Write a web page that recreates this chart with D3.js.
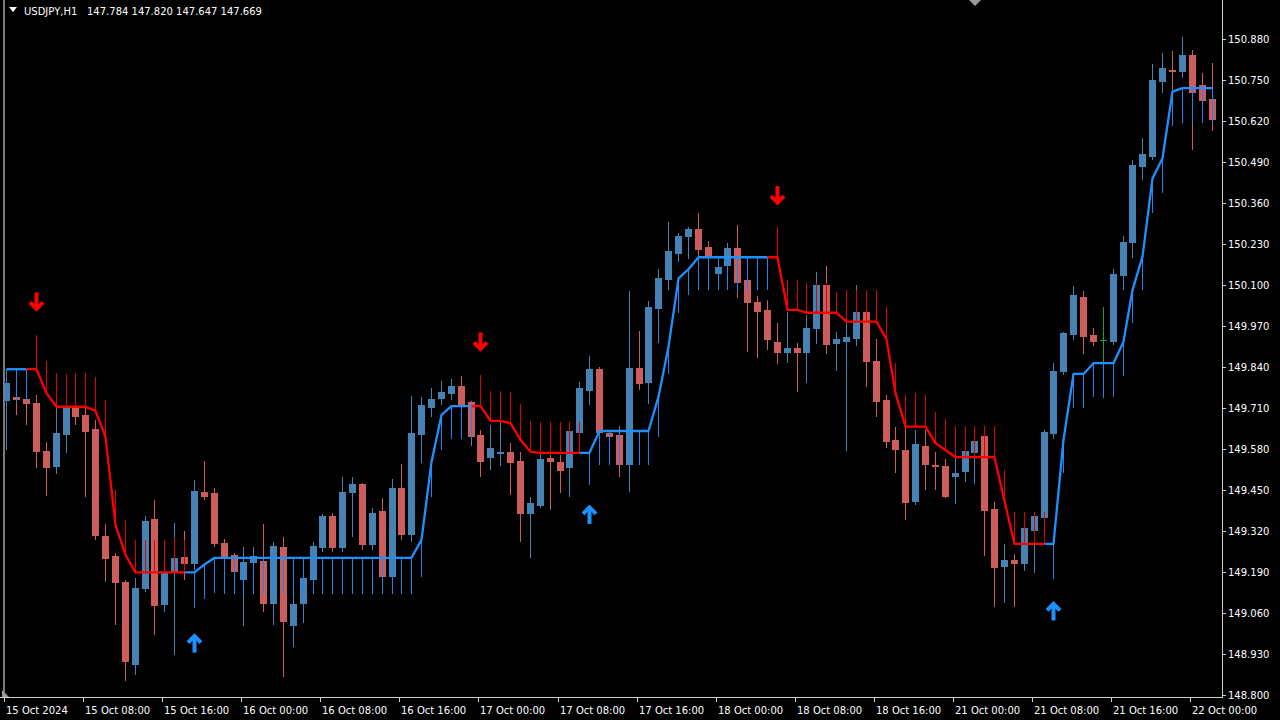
<!DOCTYPE html>
<html><head><meta charset="utf-8">
<script src="https://cdn.jsdelivr.net/npm/d3@7"></script>
<style>html,body{margin:0;padding:0;background:#000;overflow:hidden}</style>
</head><body><svg id="c" width="1280" height="720"></svg>
<script>
const open=[149.733,149.744,149.739,149.727,149.574,149.522,149.624,149.711,149.688,149.643,149.304,149.242,149.159,148.895,149.135,149.358,149.085,149.186,149.237,149.215,149.444,149.441,149.283,149.244,149.165,149.218,149.225,149.088,149.268,149.020,149.088,149.165,149.267,149.368,149.267,149.440,149.469,149.276,149.383,149.173,149.457,149.307,149.624,149.711,149.738,149.754,149.781,149.728,149.624,149.551,149.564,149.570,149.542,149.374,149.400,149.551,149.538,149.519,149.632,149.765,149.833,149.630,149.624,149.529,149.836,149.788,150.023,150.116,150.197,150.251,150.277,150.220,150.134,150.160,150.216,150.116,150.047,150.021,149.918,149.885,149.899,149.885,149.960,150.100,149.913,149.920,149.929,150.014,149.860,149.735,149.609,149.577,149.411,149.590,149.529,149.526,149.490,149.506,149.568,149.621,149.389,149.207,149.228,149.215,149.321,149.360,149.628,149.825,149.942,150.061,149.942,149.926,149.920,150.129,150.232,150.473,150.507,150.745,150.782,150.776,150.829,150.734,150.690];
const high=[149.812,149.761,149.751,149.751,149.601,149.710,149.720,149.720,149.713,149.672,149.341,149.249,149.165,149.171,149.369,149.418,149.196,149.344,149.320,149.482,149.542,149.457,149.294,149.249,149.270,149.270,149.342,149.286,149.300,149.228,149.228,149.286,149.373,149.376,149.490,149.490,149.473,149.392,149.424,149.485,149.532,149.748,149.744,149.774,149.796,149.801,149.812,149.732,149.640,149.656,149.669,149.599,149.571,149.427,149.571,149.561,149.561,149.656,149.793,149.875,149.840,149.640,149.653,150.081,149.955,150.049,150.151,150.301,150.264,150.283,150.327,150.241,150.173,150.232,150.290,150.163,150.065,150.052,149.979,150.014,149.917,150.005,150.142,150.160,149.952,149.980,150.100,150.052,149.928,149.751,149.651,149.751,149.640,149.640,149.571,149.547,149.552,149.593,149.624,149.640,149.413,149.279,149.247,149.355,149.380,149.640,149.854,149.952,150.097,150.082,149.963,150.029,150.150,150.255,150.496,150.565,150.800,150.837,150.842,150.885,150.845,150.773,150.805];
const low=[149.577,149.688,149.656,149.519,149.431,149.501,149.568,149.656,149.427,149.292,149.159,149.022,148.845,148.863,149.127,148.990,149.064,148.927,149.165,149.196,149.418,149.270,149.228,149.177,149.019,149.206,149.064,149.022,148.858,148.951,149.027,149.152,149.253,149.253,149.253,149.302,149.260,149.260,149.158,149.165,149.292,149.286,149.535,149.682,149.720,149.735,149.704,149.590,149.492,149.513,149.527,149.434,149.285,149.233,149.393,149.387,149.441,149.427,149.621,149.720,149.615,149.593,149.491,149.444,149.767,149.723,149.915,150.084,150.173,150.182,150.192,150.173,150.084,150.084,150.060,149.889,149.868,149.894,149.850,149.854,149.762,149.788,149.913,149.880,149.828,149.575,149.908,149.778,149.681,149.582,149.503,149.355,149.402,149.450,149.450,149.424,149.406,149.476,149.469,149.241,149.080,149.093,149.078,149.194,149.186,149.339,149.611,149.815,149.926,149.881,149.907,149.741,149.910,150.084,150.185,150.433,150.496,150.708,150.718,150.755,150.528,150.671,150.589];
const close=[149.790,149.735,149.723,149.571,149.521,149.630,149.711,149.681,149.635,149.304,149.230,149.154,148.906,149.138,149.352,149.082,149.186,149.233,149.215,149.448,149.427,149.279,149.239,149.189,149.221,149.241,149.088,149.273,149.032,149.089,149.170,149.273,149.368,149.267,149.445,149.468,149.276,149.378,149.173,149.457,149.307,149.630,149.719,149.738,149.762,149.781,149.712,149.619,149.540,149.582,149.570,149.537,149.374,149.410,149.547,149.538,149.511,149.637,149.774,149.833,149.632,149.619,149.529,149.836,149.786,150.029,150.121,150.209,150.255,150.277,150.211,150.192,150.158,150.216,150.105,150.042,150.015,149.926,149.883,149.899,149.883,149.963,150.100,149.910,149.928,149.934,150.014,149.855,149.728,149.603,149.577,149.408,149.595,149.529,149.522,149.429,149.503,149.574,149.605,149.384,149.204,149.228,149.215,149.329,149.368,149.635,149.828,149.947,150.068,149.936,149.920,149.926,150.135,150.236,150.481,150.515,150.750,150.789,150.775,150.829,150.710,150.684,150.623];
const trail=[149.833,149.833,149.833,149.833,149.757,149.714,149.714,149.714,149.714,149.701,149.618,149.339,149.244,149.189,149.189,149.189,149.189,149.189,149.189,149.189,149.214,149.235,149.235,149.235,149.235,149.235,149.235,149.235,149.235,149.235,149.235,149.235,149.235,149.235,149.235,149.235,149.235,149.235,149.235,149.235,149.235,149.235,149.292,149.539,149.688,149.716,149.716,149.716,149.716,149.669,149.669,149.662,149.609,149.571,149.568,149.568,149.568,149.568,149.568,149.568,149.637,149.637,149.637,149.637,149.637,149.637,149.746,149.904,150.121,150.150,150.188,150.188,150.188,150.188,150.188,150.188,150.188,150.188,150.188,150.021,150.021,150.012,150.012,150.012,150.012,149.984,149.984,149.984,149.984,149.928,149.757,149.651,149.651,149.651,149.598,149.577,149.554,149.554,149.554,149.554,149.554,149.415,149.279,149.279,149.279,149.279,149.279,149.609,149.818,149.818,149.852,149.852,149.852,149.920,150.084,150.190,150.438,150.502,150.713,150.724,150.724,150.724,150.724];
const hist=[149.723,149.729,149.729,149.942,149.859,149.822,149.817,149.820,149.820,149.809,149.735,149.450,149.355,149.292,149.292,149.292,149.292,149.298,149.292,149.075,149.104,149.123,149.119,149.119,149.119,149.119,149.119,149.119,149.119,149.119,149.119,149.119,149.119,149.119,149.119,149.119,149.119,149.119,149.119,149.119,149.119,149.119,149.175,149.429,149.577,149.611,149.611,149.605,149.815,149.764,149.764,149.762,149.722,149.669,149.667,149.667,149.667,149.667,149.667,149.466,149.529,149.529,149.529,149.529,149.529,149.529,149.617,149.818,150.012,150.068,150.084,150.084,150.084,150.084,150.084,150.084,150.084,150.084,150.285,150.116,150.116,150.105,150.106,150.106,150.079,150.084,150.084,150.084,150.084,150.031,149.854,149.751,149.757,149.751,149.698,149.674,149.653,149.653,149.653,149.653,149.653,149.513,149.381,149.381,149.381,149.381,149.167,149.505,149.709,149.709,149.746,149.746,149.746,149.812,149.979,150.084,150.329,150.393,150.604,150.615,150.615,150.615,150.615];
const trend=[1,1,1,-1,-1,-1,-1,-1,-1,-1,-1,-1,-1,-1,-1,-1,-1,-1,-1,1,1,1,1,1,1,1,1,1,1,1,1,1,1,1,1,1,1,1,1,1,1,1,1,1,1,1,1,1,-1,-1,-1,-1,-1,-1,-1,-1,-1,-1,-1,1,1,1,1,1,1,1,1,1,1,1,1,1,1,1,1,1,1,1,-1,-1,-1,-1,-1,-1,-1,-1,-1,-1,-1,-1,-1,-1,-1,-1,-1,-1,-1,-1,-1,-1,-1,-1,-1,-1,-1,-1,1,1,1,1,1,1,1,1,1,1,1,1,1,1,1,1,1];
const arrowBars=[3,19,48,59,78,106];
const arrowPrices=[150.048,148.963,149.921,149.371,150.385,149.065];
const arrowDir=[-1,1,-1,1,-1,1];
const priceTicks=["150.880","150.750","150.620","150.490","150.360","150.230","150.100","149.970","149.840","149.710","149.580","149.450","149.320","149.190","149.060","148.930","148.800"];
const timeLabels=["15 Oct 2024","15 Oct 08:00","15 Oct 16:00","16 Oct 00:00","16 Oct 08:00","16 Oct 16:00","17 Oct 00:00","17 Oct 08:00","17 Oct 16:00","18 Oct 00:00","18 Oct 08:00","18 Oct 16:00","21 Oct 00:00","21 Oct 08:00","21 Oct 16:00","22 Oct 00:00"];
const timeBars=[0,8,16,24,32,40,48,56,64,72,80,88,96,104,112,120];
const headerSymbol="USDJPY,H1";
const headerPrices="147.784 147.820 147.647 147.669";

const plotR=1222, plotB=697;
const svg=d3.select("#c");
svg.append("rect").attr("width",1280).attr("height",720).attr("fill","#000");
const x=d3.scaleLinear().domain([0,122]).range([6.3,1211.5]);
const y=d3.scaleLinear().domain([148.800,150.880]).range([695,39]);
const n=open.length;
const idx=d3.range(n);
const UPB="#4682B4", DNB="#CD5C5C", UPW="#4682B4", DNW="#CD5C5C", DOJI="#22a022";
const LUP="#1E90FF", LDN="#FF0000";

const plot=svg.append("g");

const cg=plot.append("g").attr("shape-rendering","crispEdges");
idx.forEach(i=>{
  const cx=Math.round(x(i));
  const doji=open[i]===close[i];
  const up=close[i]>open[i];
  const wc=doji?DOJI:(up?UPW:DNW);
  const bc=doji?DOJI:(up?UPB:DNB);
  cg.append("rect").attr("x",cx).attr("width",1)
    .attr("y",Math.round(y(high[i]))).attr("height",Math.max(1,Math.round(y(low[i]))-Math.round(y(high[i]))))
    .attr("fill",wc);
  const t=Math.round(y(Math.max(open[i],close[i]))), b=Math.round(y(Math.min(open[i],close[i])));
  if(doji){
    cg.append("rect").attr("x",cx-3).attr("width",7).attr("y",t).attr("height",1).attr("fill",bc);
  } else {
    cg.append("rect").attr("x",cx-3).attr("width",7).attr("y",t).attr("height",Math.max(1,b-t)).attr("fill",bc);
  }
});
// left marker line (drawn over first bar like the reference)
plot.append("line").attr("x1",4).attr("x2",4).attr("y1",0).attr("y2",plotB).attr("stroke","#7a7a7a").attr("stroke-width",2);

// histogram
const hg=plot.append("g").attr("shape-rendering","crispEdges");
idx.forEach(i=>{
  const cx=Math.round(x(i));
  const a=y(trail[i]), b=y(hist[i]);
  hg.append("rect").attr("x",cx).attr("width",1.4)
    .attr("y",Math.min(a,b)).attr("height",Math.abs(b-a))
    .attr("fill",trend[i]>0?"#1c86ee":"#e00000");
});

// trail line
const lineGen=d3.line().x(i=>Math.round(x(i))+0.5).y(i=>y(trail[i]));
function segs(dir){
  const out=[];let cur=[];
  for(let i=0;i<n-1;i++){
    if(trend[i+1]===dir){ if(cur.length===0) cur.push(i); cur.push(i+1); }
    else { if(cur.length) out.push(cur); cur=[]; }
  }
  if(cur.length) out.push(cur);
  return out;
}
[[1,LUP],[-1,LDN]].forEach(([d,c])=>{
  segs(d).forEach(s=>{
    plot.append("path").attr("d",lineGen(s)).attr("fill","none").attr("stroke",c).attr("stroke-width",2.3).attr("stroke-linejoin","round");
  });
});

// arrows (d=+1 up arrow, d=-1 down arrow)
arrowBars.forEach((bi,k)=>{
  const cx=Math.round(x(bi))+0.5, cy=y(arrowPrices[k]), d=arrowDir[k];
  const col=d>0?LUP:LDN;
  const g=plot.append("g");
  // tip is at cy - 8*d (up: above center)
  const tip=cy-8*d, tail=cy+9*d;
  g.append("line").attr("x1",cx).attr("x2",cx).attr("y1",tail).attr("y2",tip+2*d)
   .attr("stroke",col).attr("stroke-width",4);
  g.append("path").attr("d",`M${cx-6.5},${tip+7*d} L${cx},${tip+0.5*d} L${cx+6.5},${tip+7*d}`)
   .attr("fill","none").attr("stroke",col).attr("stroke-width",4).attr("stroke-linejoin","miter");
});

// axes frame
const fr=svg.append("g").attr("shape-rendering","crispEdges");
fr.append("line").attr("x1",plotR+0.5).attr("x2",plotR+0.5).attr("y1",0).attr("y2",plotB).attr("stroke","#d0d0d0");
fr.append("line").attr("x1",0).attr("x2",plotR+1).attr("y1",plotB+0.5).attr("y2",plotB+0.5).attr("stroke","#d0d0d0");

const font="'DejaVu Sans', sans-serif";
priceTicks.forEach(t=>{
  const yy=Math.round(y(+t))+0.5;
  fr.append("line").attr("x1",plotR).attr("x2",plotR+4).attr("y1",yy).attr("y2",yy).attr("stroke","#d0d0d0");
  svg.append("text").attr("x",1228).attr("y",y(+t)+3.5).attr("fill","#fff").attr("font-family",font).attr("font-size","10px").text(t);
});
timeLabels.forEach((t,k)=>{
  const xx=Math.round(x(timeBars[k]))-2;
  fr.append("line").attr("x1",xx+0.5).attr("x2",xx+0.5).attr("y1",plotB).attr("y2",plotB+5).attr("stroke","#d0d0d0");
  svg.append("text").attr("x",xx+2).attr("y",714).attr("fill","#fff").attr("font-family",font).attr("font-size","10px").text(t);
});

// header
svg.append("path").attr("d","M9,7 L17,7 L13,12 Z").attr("fill","#fff");
svg.append("text").attr("x",24).attr("y",15).attr("fill","#fff").attr("font-family",font).attr("font-size","10px").text(headerSymbol);
svg.append("text").attr("x",87).attr("y",15).attr("fill","#fff").attr("font-family",font).attr("font-size","10px").text(headerPrices);
// chart shift marker
svg.append("path").attr("d","M969,0 L981,0 L975,6 Z").attr("fill","#9a9a9a");
svg.append("path").attr("d","M2,697 L9,697 L2,690 Z").attr("fill","#9a9a9a");
</script></body></html>
